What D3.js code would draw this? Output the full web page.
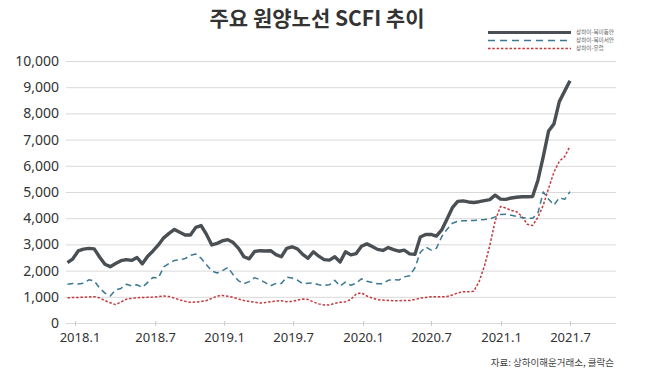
<!DOCTYPE html>
<html><head><meta charset="utf-8">
<script src="https://cdn.jsdelivr.net/npm/d3@7/dist/d3.min.js"></script>
<style>
body{margin:0;background:#fff;}
svg{display:block;}
</style></head>
<body><svg id="c" width="650" height="381"></svg>
<script>
// biweekly observations, 2018.1 – 2021.7
const eastCoast = [2300,2450,2750,2820,2850,2830,2520,2240,2150,2270,2380,2420,2390,2500,2260,2550,2750,2980,3250,3420,
3570,3460,3360,3360,3650,3720,3380,2980,3040,3140,3180,3070,2850,2530,2450,2730,2760,2750,2760,2610,
2530,2850,2910,2830,2620,2470,2720,2550,2420,2400,2530,2330,2720,2600,2650,2930,3020,2920,2810,2770,
2880,2800,2740,2780,2640,2620,3280,3380,3380,3320,3550,3970,4400,4640,4660,4620,4600,4630,4670,4710,
4880,4730,4720,4770,4800,4820,4820,4830,5450,6350,7330,7600,8450,8850,9250];
const westCoast = [1480,1510,1490,1520,1650,1610,1330,1140,1030,1260,1320,1480,1420,1460,1360,1550,1740,1720,2140,2270,
2390,2410,2460,2580,2630,2470,2220,1980,1910,2000,2120,1840,1610,1500,1580,1730,1650,1540,1420,1510,
1510,1750,1715,1640,1500,1520,1527,1460,1430,1460,1630,1410,1560,1440,1520,1690,1590,1550,1495,1500,
1630,1660,1640,1760,1800,2110,2700,2900,2780,2850,3290,3580,3810,3880,3906,3906,3915,3930,3950,3975,
4050,4140,4155,4115,4070,4030,3996,3996,4200,5000,4720,4503,4780,4719,5013];
const europe = [966,970,975,985,995,1000,960,855,770,700,800,905,940,966,972,980,990,1005,1029,1008,
950,880,830,788,800,818,860,940,1030,1052,1020,978,915,860,818,795,760,780,815,840,
848,815,820,870,915,900,800,730,690,687,750,790,810,900,1110,1150,1030,950,890,875,
860,850,850,860,860,895,950,975,1000,1003,1005,1008,1070,1150,1196,1196,1210,1580,2180,2960,
3900,4445,4390,4295,4250,4070,3770,3720,4030,4500,5140,5760,6170,6350,6750];

const seriesNames = ["상하이-북미동안","상하이-북미서안","상하이-유럽"];
const xTickIndex = [1.4, 16.4, 29.3, 42.2, 55.3, 68, 81.1, 94];
const xTickLabels = ["2018.1","2018.7","2019.1","2019.7","2020.1","2020.7","2021.1","2021.7"];
const yTicks = [0,1000,2000,3000,4000,5000,6000,7000,8000,9000,10000];
const title = "주요 원양노선 SCFI 추이";
const source = "자료: 상하이해운거래소, 클락슨";

const svg = d3.select("#c");
const font = "'Noto Sans','Noto Sans CJK KR',sans-serif";
const x = d3.scaleLinear().domain([0, eastCoast.length-1]).range([67.5, 570]);
const y = d3.scaleLinear().domain([0, 10000]).range([323, 61]);

// title
svg.append("text").attr("x",317).attr("y",26).attr("text-anchor","middle")
  .attr("font-family","'Noto Sans CJK KR',sans-serif").attr("font-size",21).attr("font-weight",700)
  .attr("fill","#333").text(title);

// y axis / gridlines
const gy = svg.append("g").attr("transform","translate(66,0)")
  .call(d3.axisLeft(y).tickValues(yTicks).tickSize(-550).tickPadding(7).tickFormat(d3.format(",")));
gy.select(".domain").remove();
gy.selectAll(".tick line").attr("stroke","#d9d9d9").attr("stroke-width",1);
gy.selectAll(".tick text").attr("font-family",font).attr("font-size",14).attr("fill","#333");

// x axis
const gx = svg.append("g").attr("transform","translate(0,323)")
  .call(d3.axisBottom(x).tickValues(xTickIndex).tickSize(3).tickPadding(7).tickFormat((d,i)=>xTickLabels[i]));
gx.select(".domain").remove();
gx.selectAll(".tick line").attr("stroke","#ccc").attr("y1",-2);
gx.selectAll(".tick text").attr("font-family",font).attr("font-size",13).attr("fill","#333")
  .attr("dx",(d,i)=>i===0?4.5:0);

const styles = [
  {data:eastCoast, color:"#4a4f54", width:3.4, dash:null},
  {data:westCoast, color:"#3b7993", width:1.5, dash:"6,4"},
  {data:europe, color:"#c5393d", width:1.5, dash:"2.5,1.8"}
];
const line = d3.line().x((d,i)=>x(i)).y(d=>y(d));
// draw order: red, blue, black on top
[2,1,0].forEach(k=>{
  const s = styles[k];
  svg.append("path").datum(s.data).attr("d",line).attr("fill","none")
    .attr("stroke",s.color).attr("stroke-width",s.width)
    .attr("stroke-dasharray",s.dash).attr("stroke-linejoin","round");
});

// legend
const lg = svg.append("g");
const ly = [32.5, 40.5, 48.5];
styles.forEach((s,i)=>{
  lg.append("line").attr("x1",488).attr("x2",571).attr("y1",ly[i]).attr("y2",ly[i])
    .attr("stroke",s.color).attr("stroke-width",i===0?3:1.5).attr("stroke-dasharray",i===1?"7,5":s.dash);
  lg.append("text").attr("x",576).attr("y",ly[i]).attr("dy","0.35em")
    .attr("font-family","'Noto Sans CJK KR',sans-serif").attr("font-size",5.6).attr("fill","#666")
    .text(seriesNames[i]);
});

// source
svg.append("text").attr("x",614).attr("y",366).attr("text-anchor","end")
  .attr("font-family","'Noto Sans CJK KR',sans-serif").attr("font-size",9.5).attr("fill","#444")
  .text(source);
</script></body></html>
